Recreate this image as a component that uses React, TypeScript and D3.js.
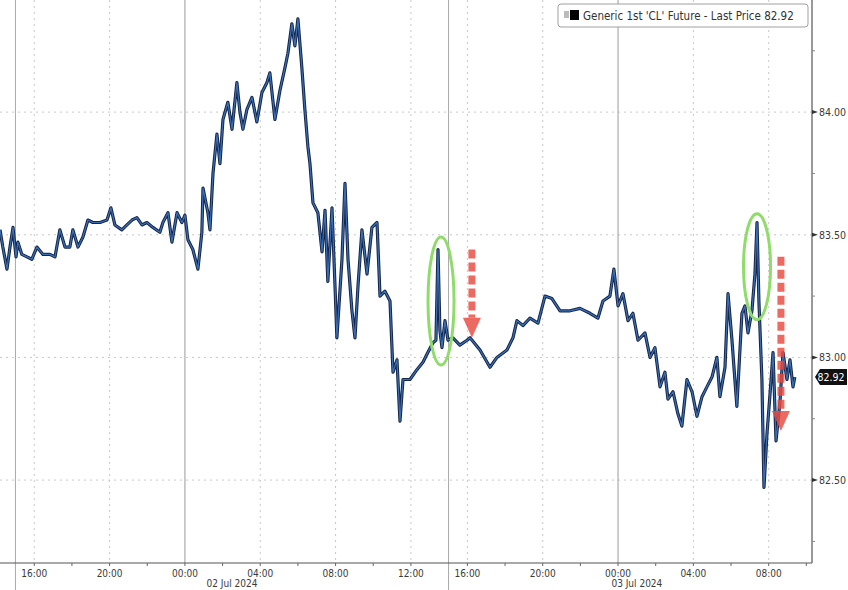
import React from "react";
import * as d3 from "d3";

// Trading-hour offsets from 02 Jul 2024 00:00 (the daily 1h session break is compressed out)
const times = [
  -9.82, -9.67, -9.45, -9.29, -9.13, -8.97, -8.87, -8.66, -8.39, -8.13, -7.86, -7.54, -7.17, -6.9, -6.64, -6.37, -6.11, -5.95, -5.68, -5.42,
  -5.15, -4.89, -4.51, -4.14, -3.93, -3.72, -3.35, -3.08, -2.81, -2.55, -2.28, -2.02, -1.7, -1.33, -1.17, -0.9, -0.69, -0.42, -0.16, 0.0,
  0.16, 0.42, 0.69, 0.9, 0.96, 1.22, 1.33, 1.49, 1.7, 1.86, 2.02, 2.28, 2.5, 2.76, 2.92, 3.08, 3.29, 3.56, 3.82, 4.09,
  4.35, 4.51, 4.78, 5.05, 5.31, 5.47, 5.68, 5.84, 6.0, 6.21, 6.37, 6.53, 6.64, 6.8, 7.06, 7.28, 7.44, 7.59, 7.81, 7.97,
  8.07, 8.34, 8.5, 8.66, 8.87, 9.03, 9.19, 9.4, 9.67, 9.93, 10.2, 10.36, 10.62, 10.89, 11.05, 11.26, 11.42, 11.58, 11.95, 12.32,
  12.64, 12.9, 13.17, 13.33, 13.44, 13.54, 13.65, 13.81, 13.97, 14.23, 14.6, 14.98, 15.14, 15.67, 16.2, 16.57, 17.1, 17.42, 17.63, 17.95,
  18.32, 18.75, 19.12, 19.49, 19.92, 20.45, 20.98, 21.51, 21.93, 22.2, 22.57, 22.78, 23.0, 23.26, 23.53, 23.79, 24.06, 24.43, 24.7, 24.96,
  25.23, 25.49, 25.65, 25.92, 26.18, 26.39, 26.66, 26.93, 27.19, 27.46, 27.72, 27.99, 28.25, 28.41, 28.68, 28.84, 29.05, 29.31, 29.58, 29.74,
  29.9, 30.11, 30.27, 30.38, 30.48, 30.64, 30.75, 30.91, 31.07, 31.23, 31.39, 31.6, 31.76, 31.97, 32.13, 32.29, 32.39,
];
const prices = [
  83.52, 83.45, 83.36, 83.45, 83.53, 83.41, 83.47, 83.42, 83.41, 83.4, 83.45, 83.42, 83.42, 83.41, 83.52, 83.45, 83.45, 83.52, 83.45, 83.49,
  83.56, 83.55, 83.55, 83.56, 83.61, 83.54, 83.52, 83.54, 83.56, 83.57, 83.54, 83.55, 83.53, 83.51, 83.55, 83.59, 83.47, 83.59, 83.55, 83.58,
  83.48, 83.44, 83.36, 83.51, 83.69, 83.59, 83.52, 83.75, 83.91, 83.79, 83.97, 84.04, 83.93, 84.12, 84.0, 83.93, 84.01, 84.06, 83.96, 84.08,
  84.12, 84.16, 83.97, 84.09, 84.18, 84.24, 84.36, 84.27, 84.38, 84.18, 84.01, 83.86, 83.79, 83.63, 83.59, 83.43, 83.6, 83.31, 83.61, 83.29,
  83.08, 83.4, 83.71, 83.4, 83.19, 83.08, 83.29, 83.52, 83.34, 83.53, 83.55, 83.25, 83.27, 83.23, 82.94, 82.99, 82.74, 82.91, 82.91, 82.95,
  82.98, 83.02, 83.06, 83.07, 83.44, 83.11, 83.04, 83.15, 83.07, 83.08, 83.05, 83.07, 83.08, 83.03, 82.96, 83.0, 83.03, 83.08, 83.15, 83.13,
  83.16, 83.14, 83.25, 83.24, 83.19, 83.19, 83.2, 83.18, 83.16, 83.23, 83.25, 83.36, 83.21, 83.26, 83.15, 83.18, 83.07, 83.1, 83.0, 83.04,
  82.88, 82.94, 82.83, 82.86, 82.77, 82.72, 82.91, 82.86, 82.76, 82.84, 82.88, 82.92, 83.0, 82.84, 82.96, 83.26, 83.07, 82.8, 83.18, 83.21,
  83.1, 83.19, 83.34, 83.55, 83.23, 82.91, 82.47, 82.69, 82.85, 83.02, 82.66, 82.82, 83.02, 82.91, 82.99, 82.88, 82.92,
];

const xTickTimes = [-8, -4, 0, 4, 8, 12, 15, 19, 23, 27, 31];
const xTickLabels = ["16:00", "20:00", "00:00", "04:00", "08:00", "12:00", "16:00", "20:00", "00:00", "04:00", "08:00"];
const xMinorTimes = [-8, -6, -4, -2, 0, 2, 4, 6, 8, 10, 12, 15, 17, 19, 21, 23, 25, 27, 29, 31, 33];
const midnightTimes = [0, 23];
const sessionTimes = [-9, 14];
const dateLabelTimes = [2.5, 24.0];
const dateLabels = ["02 Jul 2024", "03 Jul 2024"];

const yTicks = [82.5, 83.0, 83.5, 84.0];
const yMinorTicks = [82.25, 82.75, 83.25, 83.75, 84.25];
const lastPrice = 82.92;
const legendText = "Generic 1st 'CL' Future - Last Price 82.92";

// annotations in data units
const ellipseT = [13.6, 30.38];
const ellipseP = [83.23, 83.37];
const ellipseRx = [13, 13.5];
const ellipseRy = [64, 53];
const arrowT = [15.24, 31.65];
const arrowTop = [83.44, 83.41];
const arrowBottom = [83.08, 82.7];

const W = 848;
const H = 590;
const AXIS_X = 812;
const AXIS_Y = 563;
const FONT = "'Liberation Sans Narrow', 'DejaVu Sans Condensed', 'Liberation Sans', Arial, sans-serif";

export default function App() {
  const x = d3.scaleLinear().domain([-9.82, 33.3]).range([0, AXIS_X]);
  const y = d3.scaleLinear().domain([82.162, 84.457]).range([AXIS_Y, 0]);
  const pts: [number, number][] = times.map((t, i) => [t, prices[i]]);
  const line = d3
    .line<[number, number]>()
    .x((d) => x(d[0]))
    .y((d) => y(d[1]));
  const path = line(pts) || "";

  return (
    <svg
      width={W}
      height={H}
      style={{ position: "absolute", left: 0, top: 0, background: "#fff" }}
      fontFamily={FONT}
    >
      <rect x={0} y={0} width={W} height={H} fill="#fff" />
      {/* horizontal grid */}
      {yTicks.map((v) => (
        <line key={"hg" + v} x1={0} x2={AXIS_X} y1={y(v)} y2={y(v)} stroke="#c8c8c8" strokeWidth={1} strokeDasharray="2,4" />
      ))}
      {/* vertical dotted grid */}
      {xTickTimes
        .filter((t) => !midnightTimes.includes(t))
        .map((t) => (
          <line key={"vg" + t} x1={x(t)} x2={x(t)} y1={0} y2={AXIS_Y} stroke="#c8c8c8" strokeWidth={1} strokeDasharray="2,4" />
        ))}
      {midnightTimes.map((t) => (
        <line key={"mn" + t} x1={x(t)} x2={x(t)} y1={0} y2={AXIS_Y} stroke="#9a9a9a" strokeWidth={1} />
      ))}
      {sessionTimes.map((t) => (
        <line key={"ss" + t} x1={x(t)} x2={x(t)} y1={0} y2={H} stroke="#a8a8a8" strokeWidth={1} />
      ))}

      {/* price line */}
      <path d={path} fill="none" stroke="#15264a" strokeWidth={3.2} strokeLinejoin="round" />
      <path d={path} fill="none" stroke="#3f78c2" strokeWidth={1.2} strokeLinejoin="round" opacity={0.9} />

      {/* annotations: green ellipses */}
      {ellipseT.map((t, i) => (
        <ellipse
          key={"el" + i}
          cx={x(t)}
          cy={y(ellipseP[i])}
          rx={ellipseRx[i]}
          ry={ellipseRy[i]}
          fill="none"
          stroke="#8fdc6a"
          strokeWidth={3}
        />
      ))}
      {/* red dashed arrows */}
      {arrowT.map((t, i) => {
        const cx = x(t);
        const y0 = y(arrowTop[i]);
        const y1 = y(arrowBottom[i]);
        const head = 20;
        return (
          <g key={"ar" + i} opacity={0.82}>
            <line x1={cx} x2={cx} y1={y0} y2={y1 - head} stroke="#ea4a40" strokeWidth={7} strokeDasharray="9,4" strokeLinecap="butt" />
            <path d={`M${cx - 9},${y1 - head} L${cx + 9},${y1 - head} L${cx},${y1} Z`} fill="#ea4a40" />
          </g>
        );
      })}

      {/* x axis */}
      <line x1={0} x2={AXIS_X} y1={AXIS_Y} y2={AXIS_Y} stroke="#555" strokeWidth={1.2} />
      {xMinorTimes.map((t) => (
        <line key={"xm" + t} x1={x(t)} x2={x(t)} y1={AXIS_Y} y2={AXIS_Y + 3} stroke="#666" strokeWidth={1} />
      ))}
      {xTickTimes.map((t, i) => (
        <text key={"xl" + i} x={x(t)} y={577} textAnchor="middle" fontSize={10} fill="#3a3a3a">
          {xTickLabels[i]}
        </text>
      ))}
      {dateLabelTimes.map((t, i) => (
        <text key={"dl" + i} x={x(t)} y={587} textAnchor="middle" fontSize={10} fill="#3a3a3a">
          {dateLabels[i]}
        </text>
      ))}

      {/* y axis (right) */}
      <line x1={AXIS_X} x2={AXIS_X} y1={0} y2={AXIS_Y} stroke="#777" strokeWidth={1.5} />
      {yMinorTicks.map((v) => (
        <line key={"ym" + v} x1={AXIS_X} x2={AXIS_X + 3} y1={y(v)} y2={y(v)} stroke="#888" strokeWidth={1} />
      ))}
      {yTicks.map((v) => (
        <g key={"yl" + v}>
          <path d={`M${AXIS_X},${y(v) - 2} L${AXIS_X + 6},${y(v)} L${AXIS_X},${y(v) + 2} Z`} fill="#333" />
          <text x={819} y={y(v) + 4} fontSize={10.5} fill="#3a3a3a">
            {d3.format(".2f")(v)}
          </text>
        </g>
      ))}
      {/* last price tag */}
      <g>
        <path
          d={`M${AXIS_X + 3},${y(lastPrice)} L${AXIS_X + 8},${y(lastPrice) - 8} L${W - 1},${y(lastPrice) - 8} L${W - 1},${y(lastPrice) + 8} L${AXIS_X + 8},${y(lastPrice) + 8} Z`}
          fill="#111"
        />
        <text x={831} y={y(lastPrice) + 4} textAnchor="middle" fontSize={10.5} fill="#fff">
          {d3.format(".2f")(lastPrice)}
        </text>
      </g>

      {/* legend */}
      <g>
        <rect x={558} y={4} width={250} height={23} rx={3} fill="#fff" stroke="#a0a0a0" strokeWidth={1} />
        <rect x={564} y={11} width={5} height={7} fill="#bbb" />
        <rect x={570} y={10} width={9} height={10} fill="#000" />
        <text x={583} y={20} fontSize={11.5} fill="#333">
          {legendText}
        </text>
      </g>
    </svg>
  );
}
